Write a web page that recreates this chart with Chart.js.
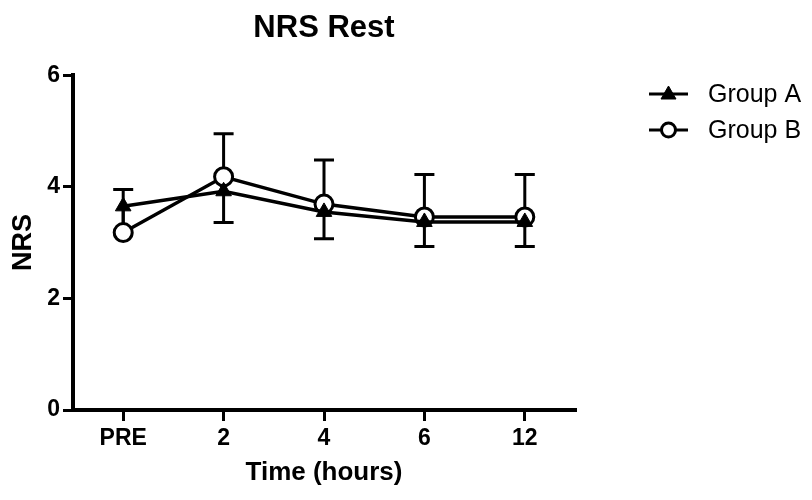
<!DOCTYPE html>
<html>
<head>
<meta charset="utf-8">
<script src="https://cdn.jsdelivr.net/npm/chart.js@4/dist/chart.umd.min.js"></script>
<style>
  html, body { margin: 0; padding: 0; background: #fff; }
  #wrap { width: 812px; height: 500px; }
</style>
</head>
<body>
<div id="wrap"><canvas id="myChart" width="812" height="500"></canvas></div>
<script>
const timeLabels = ['PRE', '2', '4', '6', '12'];
const yTicks = [0, 2, 4, 6];

// Group A: mean, error shown below only
const groupA = [3.65, 3.92, 3.55, 3.37, 3.37];
const groupAErr = [0.50, 0.56, 0.48, 0.44, 0.44];
// Group B: mean, error shown above only
const groupB = [3.18, 4.18, 3.69, 3.46, 3.46];
const groupBErr = [0.77, 0.77, 0.79, 0.76, 0.76];

const FONT = "'Liberation Sans', Arial, Helvetica, sans-serif";

// error bars, drawn under the markers
const errorBars = {
  id: 'errorBars',
  beforeDatasetsDraw(chart) {
    const ctx = chart.ctx;
    const yScale = chart.scales.y;
    chart.data.datasets.forEach((ds, i) => {
      const meta = chart.getDatasetMeta(i);
      ctx.save();
      ctx.strokeStyle = '#000';
      ctx.lineWidth = 3;
      meta.data.forEach((pt, j) => {
        const end = yScale.getPixelForValue(ds.data[j] + ds.errDir * ds.errors[j]);
        ctx.beginPath();
        ctx.moveTo(pt.x, pt.y);
        ctx.lineTo(pt.x, end);
        ctx.moveTo(pt.x - 10, end);
        ctx.lineTo(pt.x + 10, end);
        ctx.stroke();
      });
      ctx.restore();
    });
  }
};

// legend on the right, line with marker like the original
const sideLegend = {
  id: 'sideLegend',
  afterDraw(chart) {
    const ctx = chart.ctx;
    chart.data.datasets.forEach((ds, i) => {
      const y = 94 + i * 36;
      const cx = 668.5;
      ctx.save();
      ctx.strokeStyle = '#000';
      ctx.lineWidth = 3;
      ctx.beginPath();
      ctx.moveTo(649, y);
      ctx.lineTo(688, y);
      ctx.stroke();
      ctx.fillStyle = ds.pointBackgroundColor;
      ctx.lineWidth = ds.pointBorderWidth;
      ctx.beginPath();
      if (ds.pointStyle === 'circle') {
        ctx.arc(cx, y, 7, 0, Math.PI * 2);
      } else {
        ctx.moveTo(cx, y - 8);
        ctx.lineTo(cx + 7.5, y + 5);
        ctx.lineTo(cx - 7.5, y + 5);
        ctx.closePath();
      }
      ctx.fill();
      ctx.stroke();
      ctx.fillStyle = '#000';
      ctx.font = '25px ' + FONT;
      ctx.textBaseline = 'middle';
      ctx.textAlign = 'left';
      ctx.fillText(ds.label, 708, y + 1);
      ctx.restore();
    });
  }
};

const data = {
  labels: timeLabels,
  datasets: [{
    label: 'Group A',
    data: groupA,
    errors: groupAErr,
    errDir: -1,
    borderColor: '#000',
    borderWidth: 3.5,
    pointStyle: 'triangle',
    pointRadius: 9,
    pointBackgroundColor: '#000',
    pointBorderColor: '#000',
    pointBorderWidth: 1,
    tension: 0
  }, {
    label: 'Group B',
    data: groupB,
    errors: groupBErr,
    errDir: 1,
    borderColor: '#000',
    borderWidth: 3.5,
    pointStyle: 'circle',
    pointRadius: 9,
    pointBackgroundColor: '#fff',
    pointBorderColor: '#000',
    pointBorderWidth: 3,
    tension: 0
  }]
};

const config = {
  type: 'line',
  data: data,
  plugins: [errorBars, sideLegend],
  options: {
    responsive: false,
    animation: false,
    layout: {
      padding: { left: 0, right: 237, top: 0, bottom: 0 }
    },
    plugins: {
      legend: { display: false },
      tooltip: { enabled: false },
      title: {
        display: true,
        text: 'NRS Rest',
        fullSize: false,
        color: '#000',
        font: { family: FONT, size: 31, weight: 'bold' },
        padding: { top: 10, bottom: 28 }
      }
    },
    scales: {
      x: {
        type: 'category',
        offset: true,
        afterFit(scale) { scale.height = 90; },
        border: { display: true, color: '#000', width: 4 },
        grid: {
          display: true,
          drawOnChartArea: false,
          drawTicks: true,
          tickLength: 11,
          lineWidth: 3,
          color: '#000',
          offset: false
        },
        ticks: {
          color: '#000',
          padding: 4,
          maxRotation: 0,
          font: { family: FONT, size: 23, weight: 'bold' }
        },
        title: {
          display: true,
          text: 'Time (hours)',
          color: '#000',
          font: { family: FONT, size: 26, weight: 'bold' },
          padding: { top: 0, bottom: 12 }
        }
      },
      y: {
        min: 0,
        max: 6,
        afterFit(scale) { scale.width = 73; },
        afterBuildTicks(scale) {
          scale.ticks = yTicks.map(v => ({ value: v }));
        },
        border: { display: true, color: '#000', width: 4 },
        grid: {
          display: true,
          drawOnChartArea: false,
          drawTicks: true,
          tickLength: 10,
          lineWidth: 3,
          color: '#000'
        },
        ticks: {
          color: '#000',
          padding: 3,
          font: { family: FONT, size: 23, weight: 'bold' }
        },
        title: {
          display: true,
          text: 'NRS',
          color: '#000',
          font: { family: FONT, size: 27, weight: 'bold' },
          padding: { top: 7, bottom: 0 }
        }
      }
    }
  }
};

const myChart = new Chart(
  document.getElementById('myChart'),
  config
);
</script>
</body>
</html>
